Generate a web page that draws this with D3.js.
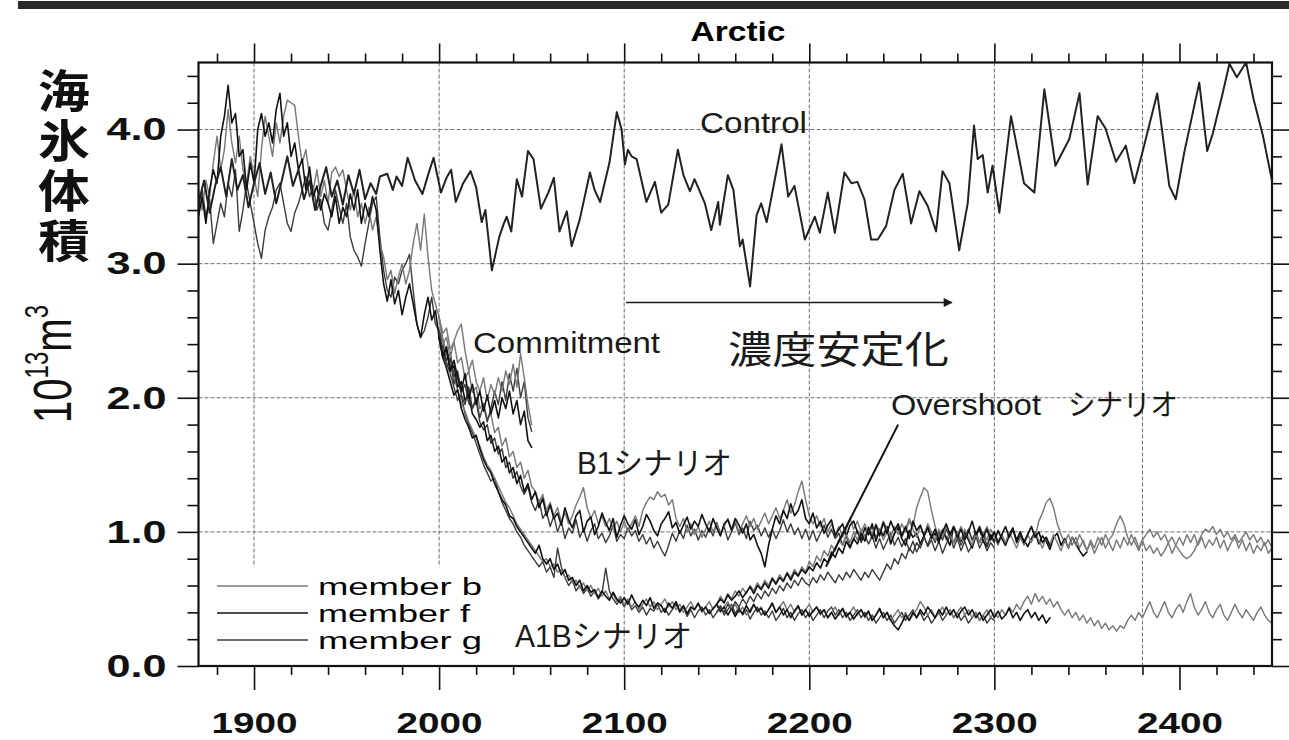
<!DOCTYPE html>
<html>
<head>
<meta charset="utf-8">
<script src="https://cdn.jsdelivr.net/npm/d3@7"></script>
<style>
  body { margin: 0; background: #fff; }
  svg { display: block; }
</style>
</head>
<body>
<svg id="chart" width="1289" height="740"></svg>
<script>
// ---------------- data ----------------
// Arctic sea-ice volume (10^13 m^3), CCSM-style ensemble: control run plus
// members b, f, g for 20th century, commitment, B1, A1B and overshoot runs.

const xMajorYears = [1900, 2000, 2100, 2200, 2300, 2400];
const xTickLabels = ["1900", "2000", "2100", "2200", "2300", "2400"];
const yMajorValues = [0, 1, 2, 3, 4];
const yTickLabels = ["0.0", "1.0", "2.0", "3.0", "4.0"];
const gridYears = [1900, 2000, 2100, 2200, 2300, 2380];
const gridValues = [1, 2, 3, 4];

// control run, [year, volume] at turning points of the curve
const controlRun = [
  [1870,3.45],[1873,3.62],[1876,3.38],[1879,3.58],[1882,3.72],[1885,3.50],[1888,3.78],[1891,3.55],
  [1894,3.66],[1897,3.42],[1900,3.60],[1903,3.75],[1906,3.52],[1909,3.68],[1912,3.45],[1915,3.62],
  [1918,3.80],[1921,3.58],[1924,3.70],[1927,3.48],[1930,3.62],[1933,3.40],[1936,3.58],[1939,3.72],
  [1942,3.50],[1945,3.62],[1948,3.44],[1951,3.66],[1954,3.52],[1957,3.70],[1960,3.48],[1963,3.60],
  [1966,3.52],[1968,3.65],[1972,3.67],[1975,3.55],[1977,3.65],[1980,3.58],[1983,3.79],[1987,3.62],
  [1991,3.52],[1994,3.66],[1997,3.79],[2001,3.53],[2004,3.64],[2006.5,3.70],[2009,3.46],[2013,3.60],
  [2017,3.69],[2020,3.57],[2023,3.31],[2025,3.40],[2028.5,2.95],[2032.5,3.20],[2035,3.30],[2036.5,3.35],
  [2039,3.24],[2042,3.63],[2044.8,3.50],[2048,3.84],[2051,3.78],[2055,3.41],[2059,3.53],[2062,3.64],
  [2065,3.24],[2069,3.39],[2071.6,3.13],[2076,3.33],[2081.5,3.68],[2084,3.55],[2087,3.46],[2092,3.75],
  [2096,4.13],[2098.6,4.00],[2100.4,3.74],[2102,3.85],[2104,3.80],[2106.7,3.78],[2112,3.46],[2116.6,3.61],
  [2120,3.38],[2123.8,3.44],[2129,3.85],[2132,3.66],[2135.5,3.54],[2138,3.63],[2143.6,3.45],[2147,3.25],
  [2150.8,3.46],[2151.7,3.29],[2156,3.66],[2159,3.55],[2162.5,3.13],[2164,3.18],[2168,2.83],[2171.5,3.36],
  [2174,3.45],[2177,3.31],[2185,3.89],[2188.6,3.50],[2192,3.58],[2197.6,3.18],[2203,3.35],[2205.7,3.23],
  [2210,3.53],[2213.8,3.23],[2219,3.68],[2222.8,3.60],[2226,3.61],[2229.8,3.48],[2233.4,3.18],[2237,3.18],
  [2241.5,3.28],[2246,3.55],[2250.5,3.67],[2255,3.30],[2259.5,3.54],[2264,3.43],[2268.5,3.24],[2272,3.69],
  [2275.7,3.60],[2281,3.10],[2285.6,3.45],[2289,4.03],[2291,3.78],[2293.7,3.81],[2296.4,3.53],[2299,3.73],
  [2302.7,3.38],[2309,4.10],[2316,3.60],[2321.6,3.53],[2327,4.30],[2333,3.73],[2340.5,3.93],[2346,4.27],
  [2350.4,3.59],[2355.8,4.10],[2360,4.01],[2365.7,3.76],[2371,3.88],[2375.6,3.60],[2380,3.83],[2388,4.27],
  [2394.5,3.58],[2398,3.48],[2402.6,3.83],[2410.7,4.35],[2415,3.84],[2418,3.97],[2423,4.25],[2427,4.49],
  [2431,4.39],[2436,4.50],[2440,4.23],[2445,3.96],[2450,3.62]
];

// ensemble members: one value every runStep years from the run's start year
const runStep = 2;

const histStart = 1870;
const hist_b = [3.55,3.40,3.62,3.50,3.75,3.95,3.70,3.85,4.15,3.90, 3.75,3.95,3.70,3.60,3.80,3.65,3.50,3.85,4.10,3.95,
  3.80,4.05,3.90,4.10,4.22,4.20,4.18,3.95,3.75,3.85, 3.65,3.55,3.70,3.50,3.62,3.45,3.68,3.72,3.65,3.70,
  3.55,3.40,3.55,3.35,3.45,3.30,3.42,3.25,3.35,3.15, 3.05,2.88,2.95,2.78,2.90,3.00,2.85,2.95,3.15,3.30,
  3.10,3.37,3.05,2.80,2.70,2.60];
const hist_f = [3.35,3.50,3.30,3.55,3.70,3.60,3.95,4.10,4.33,4.05, 4.12,3.80,3.85,3.55,3.75,3.60,4.00,4.12,3.95,4.05,
  3.90,4.15,4.27,3.95,4.05,3.80,3.90,3.70,3.78,3.55, 3.72,3.50,3.58,3.40,3.52,3.45,3.35,3.50,3.30,3.42,
  3.35,3.52,3.40,3.55,3.30,3.45,3.35,3.50,3.40,3.10, 2.85,2.72,2.88,2.70,2.80,2.62,2.75,2.85,2.70,2.55,
  2.45,2.62,2.75,2.58,2.65,2.45];
const hist_g = [3.40,3.55,3.35,3.48,3.15,3.30,3.45,3.35,3.60,3.50, 3.70,3.24,3.40,3.60,3.45,3.30,3.15,3.04,3.25,3.35,
  3.42,3.55,3.60,3.45,3.30,3.24,3.38,3.45,3.55,3.65, 3.50,3.58,3.40,3.48,3.30,3.25,3.40,3.55,3.42,3.30,
  3.45,3.20,3.10,3.05,2.98,3.15,3.30,3.45,3.50,3.20, 2.95,2.80,2.75,2.90,2.85,2.95,3.00,3.07,2.80,2.55,
  2.45,2.50,2.60,2.75,2.55,2.50];

const scenStart = 2000;
const commit_b = [2.60,2.40,2.45,2.30,2.42,2.50,2.55,2.35,2.20,2.28, 2.12,2.05,2.15,1.98,2.10,2.02,2.15,2.05,2.20,2.10,
  2.25,2.08,2.33,2.15,1.95,1.80];
const commit_f = [2.45,2.30,2.38,2.20,2.28,2.15,2.05,2.18,2.00,2.10, 1.95,2.05,1.90,2.02,1.88,1.98,1.85,2.00,1.92,2.05,
  1.88,1.98,1.80,1.90,1.68,1.63];
const commit_g = [2.50,2.35,2.22,2.30,2.10,2.18,2.02,1.95,2.08,1.92, 2.00,1.85,1.95,1.82,1.92,2.05,1.95,2.12,1.98,2.18,
  2.05,2.22,2.00,2.12,1.85,1.75];

const b1_b = [2.60,2.48,2.52,2.36,2.42,2.26,2.30,2.14,2.20,2.04, 2.08,1.92,1.96,1.84,1.88,1.74,1.78,1.64,1.70,1.56,
  1.60,1.48,1.52,1.40,1.46,1.34,1.30,1.22,1.28,1.16, 1.22,1.12,1.18,1.08,1.14,1.06,1.12,1.20,1.26,1.33,
  1.18,1.10,1.16,1.06,1.12,1.04,1.10,1.02,1.08,1.00, 1.08,1.00,1.06,1.12,1.04,1.16,1.22,1.26,1.24,1.30,
  1.26,1.28,1.20,1.24,1.10,1.04,1.10,1.00,1.06,0.98, 1.04,0.96,1.02,1.08,1.00,1.06,0.98,1.04,1.10,1.02,
  1.08,1.00,1.06,1.12,1.04,1.10,1.02,1.08,1.14,1.06, 1.12,1.18,1.10,1.16,1.24,1.14,1.20,1.30,1.38,1.24,
  1.12,1.06,1.12,1.04,1.10,1.00,1.06,0.98,1.04,0.96, 1.02,1.10,1.02,1.08,1.00,1.06,0.98,1.04,0.96,1.02,
  0.94,1.00,0.92,0.98,1.04,0.96,1.02,1.10,1.04,1.18, 1.26,1.33,1.30,1.16,1.04,0.96,1.02,0.94,1.00,0.92,
  0.98,1.04,0.96,1.02,0.94,1.00,0.92,0.98,1.04,0.96, 1.00,0.92,0.98,0.90,0.96,1.02,0.94,1.00,0.92,0.98,
  1.04,0.96,1.08,1.14,1.22,1.25,1.18,1.06,0.98,0.92, 0.98,0.90,0.96,0.88,0.94,0.86,0.92,0.84,0.90,0.96,
  0.88,0.94,0.98,1.06,1.12,1.06,0.96,0.90,0.96,0.88, 0.94,0.86,0.90,0.84,0.88,0.82,0.86,0.92,0.84,0.90,
  0.96,0.90,0.98,0.92,0.98,0.90,0.96,0.88,0.94,0.90, 0.96,0.88,0.94,0.86,0.92,0.96,0.88,0.94,0.86,0.92,
  0.84,0.90,0.86,0.92,0.84,0.88];
const b1_f = [2.45,2.32,2.36,2.20,2.24,2.08,2.12,1.98,2.02,1.88, 1.84,1.78,1.82,1.68,1.72,1.60,1.64,1.52,1.56,1.44,
  1.48,1.36,1.42,1.30,1.36,1.24,1.30,1.18,1.25,1.12, 1.20,1.10,1.14,1.05,1.18,1.09,1.03,1.12,1.16,1.00,
  1.08,1.11,0.98,1.04,1.14,1.07,1.01,1.10,0.96,1.05, 1.12,1.06,1.02,1.09,0.98,1.04,1.13,1.08,1.01,0.97,
  1.06,1.10,1.15,1.03,1.07,0.99,1.05,1.11,1.02,1.08, 1.04,1.13,1.06,1.00,1.10,1.03,0.97,1.06,1.09,1.01,
  1.10,1.05,0.99,1.06,0.94,0.98,0.90,0.84,0.74,0.90, 1.02,1.12,1.06,1.16,1.10,1.21,1.12,1.16,1.24,1.10,
  1.06,1.14,1.03,1.08,0.99,1.05,1.09,0.97,1.02,1.06, 0.97,1.05,1.08,1.00,0.94,1.03,0.98,1.06,0.93,1.02,
  0.97,1.04,0.91,0.99,1.03,0.95,0.90,1.01,0.96,0.99, 0.91,0.97,1.04,0.95,0.99,0.92,1.01,0.96,0.90,1.04,
  0.98,0.93,1.00,0.94,0.88,0.97,1.02,0.93,0.89,0.98, 0.93,1.01,0.95,0.90,0.98,1.03,0.92,0.97,0.94,0.89,
  0.95,1.00,0.91,0.97,0.93,0.87,0.96,0.99,0.90,0.95, 0.88,0.96,0.91,0.86,0.82,0.85];
const b1_g = [2.50,2.40,2.28,2.34,2.16,2.20,2.04,2.10,1.96,1.92, 1.98,1.82,1.76,1.80,1.66,1.70,1.58,1.62,1.48,1.52,
  1.40,1.45,1.34,1.28,1.34,1.22,1.16,1.24,1.10,1.15, 1.04,1.12,1.00,1.08,0.95,1.03,0.99,1.09,0.96,1.02,
  0.93,1.01,1.06,0.95,0.99,0.92,0.97,1.05,0.93,0.98, 0.95,1.03,0.97,1.01,0.93,0.98,0.91,0.96,0.88,0.93,
  0.87,0.82,0.90,0.99,0.93,1.01,0.95,1.05,0.97,1.02, 0.94,1.01,0.96,1.03,0.97,1.07,0.99,1.04,0.94,1.00,
  1.07,0.98,1.03,0.95,1.08,1.01,1.05,0.97,1.03,0.96, 1.02,0.95,1.01,1.09,1.00,1.06,0.98,1.03,0.95,1.02,
  0.94,1.01,0.93,0.99,1.05,0.96,1.02,0.95,0.99,0.90, 0.97,0.89,0.95,1.01,0.92,0.98,0.91,0.97,0.88,0.95,
  0.87,0.93,0.99,0.90,0.96,0.89,0.95,0.86,0.93,0.85, 0.91,0.97,0.89,0.94,0.86,0.93,0.84,0.91,0.97,0.88,
  0.95,0.86,0.93,0.85,0.90,0.97,0.88,0.94,0.86,0.92, 0.88];

const a1b_b = [2.60,2.44,2.34,2.24,2.16,2.06,1.96,1.90,1.82,1.76, 1.70,1.64,1.56,1.50,1.46,1.40,1.34,1.28,1.22,1.18,
  1.12,1.06,1.02,0.98,0.94,0.90,0.86,0.82,0.78,0.80, 0.74,0.76,0.70,0.72,0.66,0.68,0.62,0.64,0.58,0.62,
  0.56,0.60,0.54,0.58,0.52,0.56,0.50,0.54,0.48,0.52, 0.46,0.50,0.44,0.48,0.42,0.46,0.50,0.44,0.48,0.42,
  0.46,0.50,0.44,0.48,0.42,0.46,0.40,0.44,0.48,0.42, 0.46,0.40,0.44,0.48,0.42,0.46,0.40,0.44,0.48,0.42,
  0.46,0.40,0.44,0.38,0.42,0.46,0.40,0.44,0.38,0.42, 0.46,0.40,0.44,0.48,0.42,0.46,0.40,0.44,0.38,0.42,
  0.46,0.40,0.44,0.38,0.42,0.36,0.40,0.44,0.38,0.42, 0.36,0.40,0.44,0.38,0.42,0.36,0.40,0.34,0.38,0.42,
  0.36,0.40,0.34,0.38,0.42,0.36,0.40,0.34,0.38,0.42, 0.48,0.44,0.38,0.42,0.36,0.40,0.44,0.38,0.42,0.36,
  0.40,0.44,0.38,0.42,0.36,0.40,0.34,0.38,0.42,0.36, 0.40,0.36,0.42,0.38,0.44,0.40,0.46,0.42,0.48,0.52,
  0.46,0.54,0.48,0.52,0.46,0.50,0.44,0.48,0.42,0.38, 0.42,0.36,0.40,0.34,0.38,0.32,0.36,0.30,0.34,0.28,
  0.32,0.27,0.30,0.26,0.30,0.28,0.34,0.38,0.34,0.40, 0.36,0.42,0.48,0.40,0.36,0.42,0.48,0.40,0.36,0.42,
  0.46,0.40,0.48,0.54,0.44,0.38,0.42,0.48,0.40,0.36, 0.42,0.46,0.38,0.34,0.40,0.46,0.40,0.36,0.42,0.38,
  0.34,0.40,0.44,0.38,0.34,0.32];
const a1b_f = [2.45,2.30,2.22,2.12,2.02,2.06,1.92,1.84,1.78,1.70, 1.72,1.62,1.54,1.48,1.44,1.36,1.30,1.24,1.20,1.12,
  1.10,1.04,1.00,0.96,0.92,0.88,0.84,0.90,0.80,0.76, 0.80,0.72,0.76,0.68,0.72,0.64,0.66,0.60,0.64,0.56,
  0.60,0.55,0.57,0.51,0.56,0.52,0.49,0.55,0.50,0.47, 0.51,0.46,0.53,0.47,0.44,0.49,0.45,0.51,0.43,0.47,
  0.45,0.40,0.47,0.43,0.48,0.41,0.45,0.39,0.44,0.42, 0.47,0.41,0.44,0.39,0.43,0.46,0.41,0.44,0.38,0.43,
  0.37,0.42,0.39,0.45,0.40,0.46,0.41,0.43,0.38,0.42, 0.47,0.40,0.44,0.38,0.42,0.36,0.41,0.45,0.38,0.42,
  0.37,0.41,0.44,0.39,0.42,0.36,0.40,0.35,0.39,0.43, 0.37,0.40,0.35,0.39,0.42,0.37,0.41,0.34,0.38,0.43,
  0.36,0.40,0.34,0.30,0.27,0.32,0.38,0.34,0.40,0.36, 0.42,0.38,0.44,0.40,0.36,0.42,0.38,0.44,0.38,0.42,
  0.36,0.41,0.44,0.38,0.42,0.36,0.40,0.34,0.38,0.42, 0.36,0.41,0.35,0.38,0.43,0.36,0.40,0.34,0.39,0.42,
  0.36,0.40,0.34,0.38,0.32,0.36];
const a1b_g = [2.50,2.36,2.26,2.18,2.08,1.98,2.02,1.88,1.80,1.74, 1.66,1.58,1.50,1.44,1.38,1.40,1.30,1.22,1.16,1.10,
  1.06,1.00,0.96,0.90,0.86,0.82,0.78,0.74,0.78,0.70, 0.74,0.66,0.88,0.74,0.66,0.60,0.64,0.56,0.60,0.54,
  0.58,0.52,0.56,0.50,0.54,0.73,0.56,0.50,0.46,0.50, 0.44,0.49,0.42,0.45,0.40,0.44,0.38,0.43,0.41,0.46,
  0.40,0.43,0.38,0.42,0.46,0.40,0.44,0.37,0.42,0.36, 0.41,0.44,0.38,0.42,0.36,0.40,0.45,0.38,0.42,0.46,
  0.39,0.44,0.38,0.42,0.35,0.40,0.44,0.38,0.41,0.36, 0.41,0.34,0.38,0.43,0.36,0.40,0.34,0.39,0.42,0.36,
  0.40,0.34,0.38,0.42,0.36,0.41,0.44,0.38,0.42,0.36, 0.40,0.34,0.38,0.42,0.36,0.40,0.34,0.38,0.32,0.36,
  0.40,0.34,0.38,0.32,0.36,0.40,0.34,0.38,0.42,0.36, 0.40,0.34,0.38,0.32,0.36,0.40,0.34,0.38,0.42,0.36,
  0.40,0.34,0.38,0.32,0.36,0.40,0.34,0.38,0.32,0.36, 0.34];

const overStart = 2150;
const over_b = [0.46,0.52,0.48,0.54,0.50,0.56,0.52,0.58,0.54,0.60, 0.56,0.62,0.58,0.64,0.60,0.66,0.62,0.68,0.64,0.70,
  0.66,0.72,0.68,0.74,0.70,0.78,0.74,0.82,0.78,0.86, 0.82,0.90,0.86,0.94,0.90,0.98,0.92,1.00,0.94,1.02,
  0.96,1.04,0.98,1.06,1.00,1.08,1.02,0.96,1.04,0.98, 1.06,1.00,1.08,1.02,0.96,1.04,0.98,1.06,1.00,0.94,
  1.02,0.96,1.04,0.98,0.92,1.00,0.94,1.02,0.96,0.90, 0.98,0.92,1.00,0.94,1.02,0.96,0.90,0.98,0.92,1.00,
  0.94,0.88,0.96,0.90,0.98,0.92,1.00,0.94,0.88,0.96, 0.90,0.98,0.92,0.86,0.94,0.88,0.96,0.90,0.98,0.92,
  0.86,0.94,0.88,0.96,0.90,0.98,0.92,0.86,0.94,0.88, 0.96,0.90,0.98,0.92,0.86,0.94,0.98,1.02,0.96,1.00,
  0.94,0.98,0.92,0.96,0.90,0.86,0.82,0.80,0.82,0.86, 0.92,0.98,1.02,1.00,1.04,0.98,1.02,0.96,1.00,0.94,
  0.98,0.92,0.96,1.00,0.94,0.98,0.92,0.96,0.90,0.94, 0.88];
const over_f = [0.46,0.50,0.47,0.53,0.49,0.52,0.56,0.51,0.55,0.59, 0.54,0.60,0.57,0.62,0.58,0.65,0.61,0.66,0.63,0.69,
  0.64,0.70,0.67,0.72,0.69,0.74,0.71,0.77,0.73,0.80, 0.77,0.85,0.81,0.88,0.84,0.93,0.88,0.95,0.91,0.99,
  0.93,1.03,0.95,1.05,0.97,1.07,0.99,1.08,1.01,1.06, 0.97,1.04,0.95,1.08,1.01,1.05,0.97,1.03,0.96,1.02,
  0.94,1.00,1.06,0.98,1.04,0.96,1.02,0.94,1.00,1.08, 0.98,1.04,0.96,1.02,0.94,1.00,0.92,0.98,1.04,0.96,
  1.02,0.94,1.00,0.92,0.98,1.04,0.96,1.00,0.92,0.96, 0.90];
const over_g = [0.40,0.44,0.40,0.46,0.42,0.48,0.44,0.50,0.46,0.52, 0.48,0.54,0.50,0.56,0.52,0.58,0.54,0.60,0.56,0.62,
  0.58,0.64,0.60,0.66,0.62,0.60,0.66,0.62,0.68,0.64, 0.70,0.66,0.62,0.68,0.64,0.70,0.66,0.72,0.68,0.64,
  0.70,0.66,0.72,0.68,0.64,0.70,0.76,0.72,0.80,0.76, 0.84,0.80,0.88,0.84,0.92,0.88,0.96,0.90,0.98,0.92,
  1.00,0.94,1.02,0.96,0.92,0.98,0.90,0.96,1.02,0.94, 1.00,0.92,0.98,0.90,0.96,0.92];

const legendLabels = ["member b", "member f", "member g"];

// ---------------- drawing ----------------
const W = 1289, H = 740;
const plot = { left: 198.5, right: 1272, top: 62.5, bottom: 666 };
const LATIN = "'Liberation Sans', Arial, Helvetica, sans-serif";
const CJK = "'Liberation Sans', 'Noto Sans CJK JP', sans-serif";

const svg = d3.select("#chart");

const x = d3.scaleLinear().domain([1870, 2450]).range([plot.left, plot.right]);
const y = d3.scaleLinear().domain([0, 4.5]).range([plot.bottom, plot.top]);

// member line styles
const memberStyle = {
  b: { stroke: "#7a7a7a", width: 1.45 },
  f: { stroke: "#111111", width: 1.6 },
  g: { stroke: "#3c3c3c", width: 1.4 }
};

// heavy rule across the top of the page
svg.append("rect")
  .attr("x", 18).attr("y", 1).attr("width", W - 18).attr("height", 8)
  .attr("fill", "#2b2b2b");

// title
svg.append("text")
  .attr("x", 738).attr("y", 41)
  .attr("text-anchor", "middle")
  .attr("font-family", LATIN).attr("font-weight", "bold").attr("font-size", 27)
  .attr("textLength", 95).attr("lengthAdjust", "spacingAndGlyphs")
  .text("Arctic");

// grid
const grid = svg.append("g").attr("stroke", "#6e6e6e").attr("stroke-width", 1)
  .attr("stroke-dasharray", "4,2");
grid.selectAll("line.h").data(gridValues).join("line").attr("class", "h")
  .attr("x1", plot.left).attr("x2", plot.right)
  .attr("y1", d => y(d)).attr("y2", d => y(d));
grid.selectAll("line.v").data(gridYears).join("line").attr("class", "v")
  .attr("x1", d => x(d)).attr("x2", d => x(d))
  .attr("y1", plot.top).attr("y2", plot.bottom);

// clip for data lines
const defs = svg.append("defs");
defs.append("clipPath").attr("id", "plotClip")
  .append("rect")
  .attr("x", plot.left).attr("y", plot.top)
  .attr("width", plot.right - plot.left).attr("height", plot.bottom - plot.top);

const line = d3.line().x(d => x(d[0])).y(d => y(d[1])).curve(d3.curveLinear);
const toPoints = (start, values) => values.map((v, i) => [start + i * runStep, v]);

const runs = [
  { m: "g", pts: toPoints(histStart, hist_g) },
  { m: "b", pts: toPoints(histStart, hist_b) },
  { m: "f", pts: toPoints(histStart, hist_f) },
  { m: "g", pts: toPoints(scenStart, a1b_g) },
  { m: "b", pts: toPoints(scenStart, a1b_b) },
  { m: "f", pts: toPoints(scenStart, a1b_f) },
  { m: "g", pts: toPoints(scenStart, b1_g) },
  { m: "b", pts: toPoints(scenStart, b1_b) },
  { m: "f", pts: toPoints(scenStart, b1_f) },
  { m: "g", pts: toPoints(overStart, over_g) },
  { m: "b", pts: toPoints(overStart, over_b) },
  { m: "f", pts: toPoints(overStart, over_f) },
  { m: "g", pts: toPoints(scenStart, commit_g) },
  { m: "b", pts: toPoints(scenStart, commit_b) },
  { m: "f", pts: toPoints(scenStart, commit_f) }
];

const lines = svg.append("g").attr("clip-path", "url(#plotClip)")
  .attr("fill", "none").attr("stroke-linejoin", "round").attr("stroke-linecap", "round");

lines.selectAll("path.run").data(runs).join("path").attr("class", "run")
  .attr("d", d => line(d.pts))
  .attr("stroke", d => memberStyle[d.m].stroke)
  .attr("stroke-width", d => memberStyle[d.m].width);

lines.append("path")
  .attr("d", line(controlRun))
  .attr("stroke", "#222").attr("stroke-width", 2);

// legend (white panel over the lower-left corner)
const legend = svg.append("g");
legend.append("rect")
  .attr("x", plot.left + 1.5).attr("y", 567)
  .attr("width", 505 - plot.left).attr("height", plot.bottom - 568)
  .attr("fill", "#fff");
const legendKeys = ["b", "f", "g"];
const legendRowY = [586, 613, 640];
legendKeys.forEach((k, i) => {
  legend.append("line")
    .attr("x1", 217).attr("x2", 308)
    .attr("y1", legendRowY[i]).attr("y2", legendRowY[i])
    .attr("stroke", memberStyle[k].stroke).attr("stroke-width", memberStyle[k].width);
  legend.append("text")
    .attr("x", 318).attr("y", legendRowY[i] + 9)
    .attr("font-family", LATIN).attr("font-size", 23)
    .attr("textLength", k === "f" ? 152 : 164).attr("lengthAdjust", "spacingAndGlyphs")
    .text(legendLabels[i]);
});

// annotations
function label(txt, px, py, size, len, family) {
  svg.append("text")
    .attr("x", px).attr("y", py)
    .attr("font-family", family || LATIN).attr("font-size", size)
    .attr("textLength", len).attr("lengthAdjust", "spacingAndGlyphs")
    .attr("fill", "#1a1a1a")
    .text(txt);
}
label("Control", 700, 133, 30, 107);
label("Commitment", 473, 353, 30, 187);
label("濃度安定化", 728, 363, 38, 221, CJK);
label("Overshoot", 891, 415, 29, 150);
label("シナリオ", 1068, 415, 30, 110, CJK);
label("B1シナリオ", 577, 474, 31, 155, CJK);
label("A1Bシナリオ", 515, 647, 31, 177, CJK);

// arrow for the stabilisation period
defs.append("marker").attr("id", "arrowHead")
  .attr("viewBox", "0 0 10 10").attr("refX", 9).attr("refY", 5)
  .attr("markerWidth", 12).attr("markerHeight", 9).attr("markerUnits", "userSpaceOnUse")
  .attr("orient", "auto")
  .append("path").attr("d", "M0,0 L10,5 L0,10 Z").attr("fill", "#1a1a1a");
svg.append("line")
  .attr("x1", x(2101)).attr("x2", x(2277))
  .attr("y1", y(2.71)).attr("y2", y(2.71))
  .attr("stroke", "#1a1a1a").attr("stroke-width", 1.6)
  .attr("marker-end", "url(#arrowHead)");

// leader from the overshoot label to its curves
svg.append("line")
  .attr("x1", x(2248)).attr("y1", y(1.80))
  .attr("x2", x(2209)).attr("y2", y(0.74))
  .attr("stroke", "#111").attr("stroke-width", 2);

// axes
const minorYears = d3.range(1880, 2441, 20).filter(d => !xMajorYears.includes(d));
const minorValues = d3.range(0.2, 4.41, 0.2).map(d => +d.toFixed(1)).filter(d => !yMajorValues.includes(d));

const axisStyle = g => {
  g.select(".domain").remove();
  g.selectAll(".tick line").attr("stroke", "#111").attr("stroke-width", 1.6);
};

svg.append("g").attr("transform", `translate(0,${plot.bottom})`)
  .call(d3.axisBottom(x).tickValues(minorYears).tickSize(9).tickFormat(""))
  .call(axisStyle);
svg.append("g").attr("transform", `translate(0,${plot.bottom})`)
  .call(d3.axisBottom(x).tickValues(xMajorYears).tickSize(24).tickPadding(22)
    .tickFormat((d, i) => xTickLabels[i]))
  .call(axisStyle)
  .call(g => g.selectAll("text")
    .attr("font-family", LATIN).attr("font-weight", "bold").attr("font-size", 30)
    .attr("fill", "#111")
    .attr("textLength", 86).attr("lengthAdjust", "spacingAndGlyphs"));

svg.append("g").attr("transform", `translate(0,${plot.top})`)
  .call(d3.axisTop(x).tickValues(minorYears).tickSize(9).tickFormat(""))
  .call(axisStyle);
svg.append("g").attr("transform", `translate(0,${plot.top})`)
  .call(d3.axisTop(x).tickValues(xMajorYears).tickSize(19).tickFormat(""))
  .call(axisStyle);

svg.append("g").attr("transform", `translate(${plot.left},0)`)
  .call(d3.axisLeft(y).tickValues(minorValues).tickSize(11).tickFormat(""))
  .call(axisStyle);
svg.append("g").attr("transform", `translate(${plot.left},0)`)
  .call(d3.axisLeft(y).tickValues(yMajorValues).tickSize(21).tickPadding(11)
    .tickFormat((d, i) => yTickLabels[i]))
  .call(axisStyle)
  .call(g => g.selectAll("text")
    .attr("font-family", LATIN).attr("font-weight", "bold").attr("font-size", 32)
    .attr("fill", "#111")
    .attr("textLength", 60).attr("lengthAdjust", "spacingAndGlyphs"));

svg.append("g").attr("transform", `translate(${plot.right},0)`)
  .call(d3.axisRight(y).tickValues(minorValues).tickSize(10).tickFormat(""))
  .call(axisStyle);
svg.append("g").attr("transform", `translate(${plot.right},0)`)
  .call(d3.axisRight(y).tickValues(yMajorValues).tickSize(17).tickFormat(""))
  .call(axisStyle);

// frame
svg.append("rect")
  .attr("x", plot.left).attr("y", plot.top)
  .attr("width", plot.right - plot.left).attr("height", plot.bottom - plot.top)
  .attr("fill", "none").attr("stroke", "#111").attr("stroke-width", 2.2);

// y-axis title: quantity name set vertically, slightly widened
svg.append("text")
  .attr("transform", "translate(64,0) scale(1.15,1) translate(-64,0)")
  .attr("x", 64).attr("y", 68)
  .style("writing-mode", "vertical-rl")
  .attr("font-family", "'Noto Sans CJK JP', sans-serif").attr("font-weight", "bold")
  .attr("font-size", 45).attr("letter-spacing", 5)
  .attr("fill", "#111")
  .text("海氷体積");

// unit, rotated; glyphs drawn taller across the baseline
const unit = svg.append("text")
  .attr("transform", "translate(71,364) rotate(-90) scale(1,1.35)")
  .attr("text-anchor", "middle")
  .attr("font-family", LATIN).attr("font-size", 40)
  .attr("fill", "#111")
  .attr("textLength", 118).attr("lengthAdjust", "spacingAndGlyphs");
unit.append("tspan").text("10");
unit.append("tspan").attr("font-size", 24).attr("dy", -17).text("13");
unit.append("tspan").attr("dy", 17).text("m");
unit.append("tspan").attr("font-size", 24).attr("dy", -17).text("3");
</script>
</body>
</html>
